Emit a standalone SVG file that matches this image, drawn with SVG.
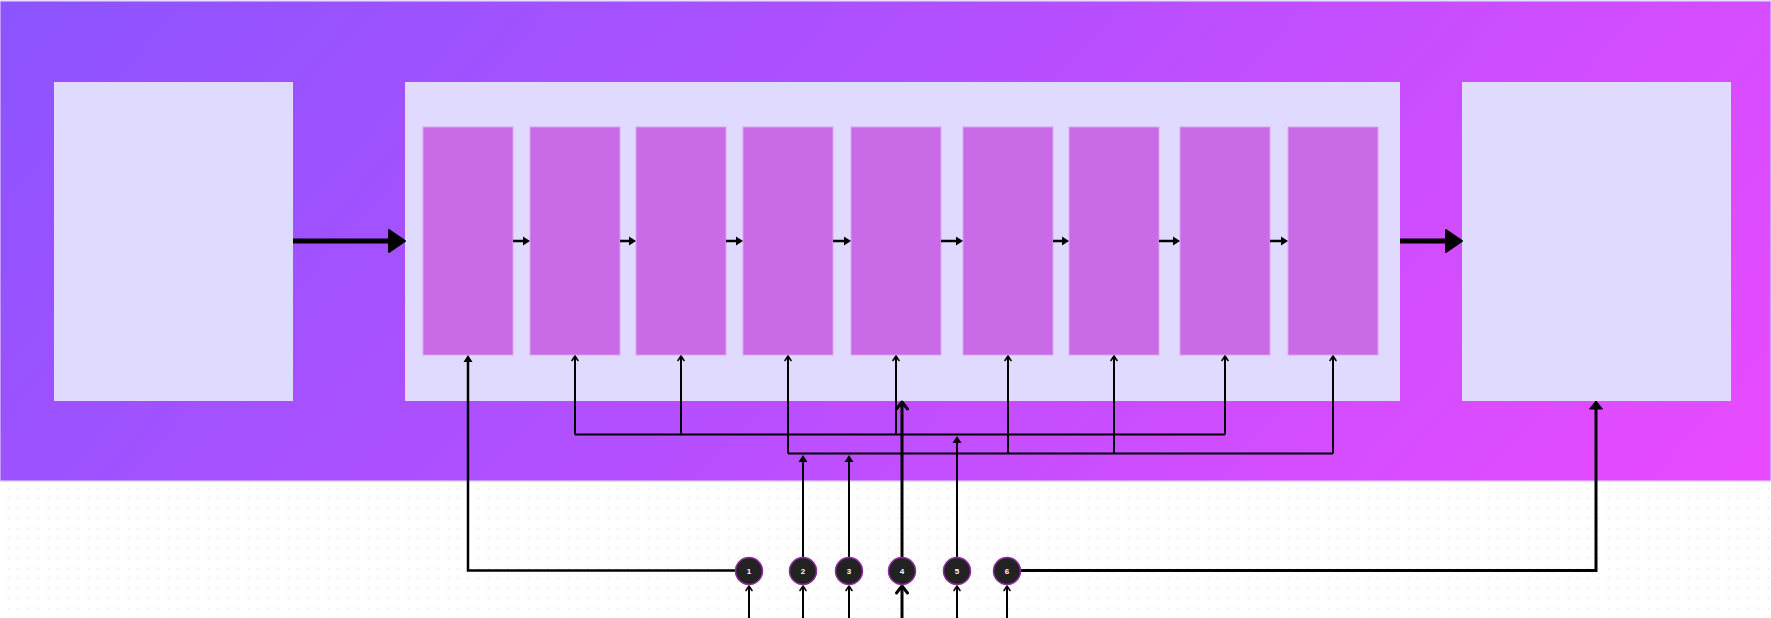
<svg xmlns="http://www.w3.org/2000/svg" width="1771" height="618" viewBox="0 0 1771 618">
  <defs>
    <linearGradient id="bgGrad" gradientUnits="userSpaceOnUse" x1="0" y1="0" x2="1193" y2="1074">
      <stop offset="0" stop-color="#8b54ff"/>
      <stop offset="0.5" stop-color="#b64fff"/>
      <stop offset="1" stop-color="#e84bff"/>
    </linearGradient>
    <pattern id="dots" patternUnits="userSpaceOnUse" x="0" y="0" width="10" height="10">
      <rect x="7.6" y="7.6" width="1.4" height="1.4" fill="#e4e4e4"/>
    </pattern>
    <marker id="mBig" markerUnits="userSpaceOnUse" orient="auto" refX="0" refY="11" markerWidth="20" markerHeight="24" overflow="visible">
      <path d="M0,0 L16,11 L0,22 Z" fill="#000" stroke="#000" stroke-width="2" stroke-linejoin="round"/>
    </marker>
    <marker id="mSmall" markerUnits="userSpaceOnUse" orient="auto" refX="0" refY="4.5" markerWidth="10" markerHeight="10" overflow="visible">
      <path d="M0,0 L7,4.5 L0,9 Z" fill="#000"/>
    </marker>
    <marker id="mMed" markerUnits="userSpaceOnUse" orient="auto" refX="0" refY="6.5" markerWidth="10" markerHeight="14" overflow="visible">
      <path d="M0,0 L8,6.5 L0,13 Z" fill="#000" stroke="#000" stroke-width="1" stroke-linejoin="round"/>
    </marker>
    <marker id="mChev" markerUnits="userSpaceOnUse" orient="auto" refX="4.5" refY="3" markerWidth="8" markerHeight="8" overflow="visible">
      <path d="M0,0 L4.5,3 L0,6" fill="none" stroke="#000" stroke-width="1.6" stroke-linecap="round" stroke-linejoin="round"/>
    </marker>
    <marker id="mChevThick" markerUnits="userSpaceOnUse" orient="auto" refX="7" refY="5.5" markerWidth="12" markerHeight="14" overflow="visible">
      <path d="M0,0 L7,5.5 L0,11" fill="none" stroke="#000" stroke-width="3" stroke-linecap="round" stroke-linejoin="round"/>
    </marker>
  </defs>
  <style>
    .panel { fill: #e0daff; }
    .bar { fill: #c96be6; stroke: #dba3f2; stroke-width: 1; }
    .c { fill: none; stroke: #000; }
    .thin { stroke-width: 2; }
    .mid { stroke-width: 2.5; }
    .thick { stroke-width: 3; }
    .main { stroke-width: 5; }
    .badge circle { fill: #222222; stroke: #8e2d9f; stroke-width: 1.5; }
    .badge text { fill: #ffffff; font-family: "Liberation Sans", Arial, sans-serif; font-size: 8px; font-weight: bold; text-anchor: middle; }
  </style>

  <rect x="0" y="0" width="1771" height="618" fill="#ffffff"/>
  <rect x="0" y="481" width="1771" height="137" fill="url(#dots)"/>
  <rect id="background" x="0" y="1" width="1771" height="480" fill="url(#bgGrad)" stroke="#dcc8ff" stroke-width="1.2"/>

  <g id="left-box"><rect class="panel" x="54" y="82" width="239" height="319"/></g>
  <g id="container"><rect class="panel" x="405" y="82" width="995" height="319"/></g>
  <g id="right-box"><rect class="panel" x="1462" y="82" width="269" height="319"/></g>

  <g id="bar-1"><rect class="bar" x="423" y="127" width="90" height="228"/></g>
  <g id="bar-2"><rect class="bar" x="530" y="127" width="90" height="228"/></g>
  <g id="bar-3"><rect class="bar" x="636" y="127" width="90" height="228"/></g>
  <g id="bar-4"><rect class="bar" x="743" y="127" width="90" height="228"/></g>
  <g id="bar-5"><rect class="bar" x="851" y="127" width="90" height="228"/></g>
  <g id="bar-6"><rect class="bar" x="963" y="127" width="90" height="228"/></g>
  <g id="bar-7"><rect class="bar" x="1069" y="127" width="90" height="228"/></g>
  <g id="bar-8"><rect class="bar" x="1180" y="127" width="90" height="228"/></g>
  <g id="bar-9"><rect class="bar" x="1288" y="127" width="90" height="228"/></g>

  <g id="connectors">
    <path class="c main" d="M293,241 L389,241" marker-end="url(#mBig)"/>
    <path class="c main" d="M1400,241 L1446,241" marker-end="url(#mBig)"/>
    <path class="c mid" d="M513,241 L523,241" marker-end="url(#mSmall)"/>
    <path class="c mid" d="M620,241 L629,241" marker-end="url(#mSmall)"/>
    <path class="c mid" d="M726,241 L736,241" marker-end="url(#mSmall)"/>
    <path class="c mid" d="M833,241 L844,241" marker-end="url(#mSmall)"/>
    <path class="c mid" d="M941,241 L956,241" marker-end="url(#mSmall)"/>
    <path class="c mid" d="M1053,241 L1062,241" marker-end="url(#mSmall)"/>
    <path class="c mid" d="M1159,241 L1173,241" marker-end="url(#mSmall)"/>
    <path class="c mid" d="M1270,241 L1281,241" marker-end="url(#mSmall)"/>
    <path class="c mid" d="M735.5,570.5 L468,570.5 L468,362" marker-end="url(#mSmall)"/>
    <path class="c thin" d="M575,434.5 L1225,434.5"/>
    <path class="c thin" d="M575,434.5 L575,356" marker-end="url(#mChev)"/>
    <path class="c thin" d="M681,434.5 L681,356" marker-end="url(#mChev)"/>
    <path class="c thin" d="M896,434.5 L896,356" marker-end="url(#mChev)"/>
    <path class="c thin" d="M1225,434.5 L1225,356" marker-end="url(#mChev)"/>
    <path class="c thin" d="M788,453.5 L1333,453.5"/>
    <path class="c thin" d="M788,453.5 L788,356" marker-end="url(#mChev)"/>
    <path class="c thin" d="M1008,453.5 L1008,356" marker-end="url(#mChev)"/>
    <path class="c thin" d="M1114,453.5 L1114,356" marker-end="url(#mChev)"/>
    <path class="c thin" d="M1333,453.5 L1333,356" marker-end="url(#mChev)"/>
    <path class="c thin" d="M803,557 L803,462" marker-end="url(#mSmall)"/>
    <path class="c thin" d="M849,557 L849,462" marker-end="url(#mSmall)"/>
    <path class="c thin" d="M957,557 L957,443" marker-end="url(#mSmall)"/>
    <path class="c thick" d="M902,557 L902,402" marker-end="url(#mChevThick)"/>
    <path class="c thick" d="M1021,570.5 L1596,570.5 L1596,409" marker-end="url(#mMed)"/>
    <path class="c thin" d="M749,618 L749,586" marker-end="url(#mChev)"/>
    <path class="c thin" d="M803,618 L803,586" marker-end="url(#mChev)"/>
    <path class="c thin" d="M849,618 L849,586" marker-end="url(#mChev)"/>
    <path class="c thick" d="M902,618 L902,586" marker-end="url(#mChevThick)"/>
    <path class="c thin" d="M957,618 L957,586" marker-end="url(#mChev)"/>
    <path class="c thin" d="M1007,618 L1007,586" marker-end="url(#mChev)"/>
  </g>

  <g id="badge-1" class="badge"><circle cx="749" cy="571" r="13.5"/><text x="749" y="574">1</text></g>
  <g id="badge-2" class="badge"><circle cx="803" cy="571" r="13.5"/><text x="803" y="574">2</text></g>
  <g id="badge-3" class="badge"><circle cx="849" cy="571" r="13.5"/><text x="849" y="574">3</text></g>
  <g id="badge-4" class="badge"><circle cx="902" cy="571" r="13.5"/><text x="902" y="574">4</text></g>
  <g id="badge-5" class="badge"><circle cx="957" cy="571" r="13.5"/><text x="957" y="574">5</text></g>
  <g id="badge-6" class="badge"><circle cx="1007" cy="571" r="13.5"/><text x="1007" y="574">6</text></g>
</svg>
